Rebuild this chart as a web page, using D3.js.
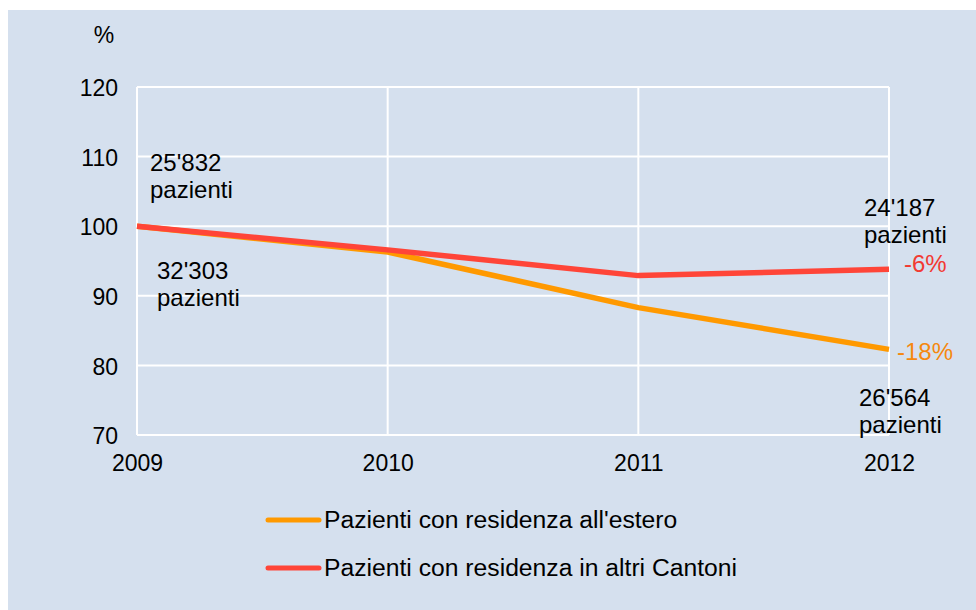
<!DOCTYPE html>
<html><head><meta charset="utf-8">
<script src="https://cdn.jsdelivr.net/npm/d3@7"></script>
<style>html,body{margin:0;padding:0;background:#fff;}svg{display:block;}</style>
</head><body>
<script>
const years = [2009, 2010, 2011, 2012];
const estero = [100, 96.3, 88.3, 82.3];
const cantoni = [100, 96.6, 92.9, 93.8];
const yTicks = [70, 80, 90, 100, 110, 120];
const seriesNames = ["Pazienti con residenza all'estero", "Pazienti con residenza in altri Cantoni"];
const seriesColors = ["#ff9900", "#ff4538"];

const W = 976, H = 610;
const FONT = "'Liberation Sans', Arial, Helvetica, sans-serif";
const svg = d3.select("body").append("svg").attr("width", W).attr("height", H)
  .style("font-family", FONT);

svg.append("rect").attr("x", 8).attr("y", 10).attr("width", W - 8).attr("height", H - 10).attr("fill", "#d5e0ee");

const x = d3.scalePoint().domain(years).range([137, 889]);
const y = d3.scaleLinear().domain([70, 120]).range([435, 87]);

// gridlines
const g = svg.append("g");
g.selectAll(".hg").data(yTicks).join("line")
  .attr("x1", 137).attr("x2", 889).attr("y1", d => y(d)).attr("y2", d => y(d))
  .attr("stroke", "#fff").attr("stroke-width", 2);
g.selectAll(".vg").data(years).join("line")
  .attr("x1", d => x(d)).attr("x2", d => x(d)).attr("y1", y(120)).attr("y2", y(70))
  .attr("stroke", "#fff").attr("stroke-width", 2);

// y axis
const yAxis = svg.append("g").attr("transform", "translate(118,0)")
  .call(d3.axisLeft(y).tickValues(yTicks).tickSize(0).tickPadding(0));
yAxis.select(".domain").remove();
yAxis.selectAll("text").attr("font-size", 23).attr("fill", "#000")
  .attr("font-family", FONT).attr("dy", "0.38em");

// x axis
const xAxis = svg.append("g").attr("transform", "translate(0,471)")
  .call(d3.axisBottom(x).tickFormat(d3.format("d")).tickSize(0).tickPadding(0));
xAxis.select(".domain").remove();
xAxis.selectAll("text").attr("font-size", 23).attr("fill", "#000")
  .attr("font-family", FONT).attr("y", 0).attr("dy", 0);

svg.append("text").attr("x", 104).attr("y", 43).attr("text-anchor", "middle")
  .attr("font-size", 23).text("%");

// lines
const line = d3.line().x((d, i) => x(years[i])).y(d => y(d));
[estero, cantoni].forEach((s, i) => {
  svg.append("path").datum(s).attr("d", line).attr("fill", "none")
    .attr("stroke", seriesColors[i]).attr("stroke-width", 5.5).attr("stroke-linejoin", "round");
});

// annotations
const ann = [
  {x: 150, y: 171, lines: ["25'832", "pazienti"], c: "#000"},
  {x: 157, y: 279, lines: ["32'303", "pazienti"], c: "#000"},
  {x: 864, y: 216, lines: ["24'187", "pazienti"], c: "#000"},
  {x: 859, y: 406, lines: ["26'564", "pazienti"], c: "#000"},
  {x: 904, y: 272, lines: ["-6%"], c: "#f23a32"},
  {x: 897, y: 360, lines: ["-18%"], c: "#f5880f"}
];
ann.forEach(a => {
  const t = svg.append("text").attr("x", a.x).attr("y", a.y).attr("font-size", 24).attr("fill", a.c);
  a.lines.forEach((l, i) => t.append("tspan").attr("x", a.x).attr("dy", i === 0 ? 0 : 26.5).text(l));
});

// legend
seriesNames.forEach((n, i) => {
  const ly = 520 + i * 48;
  svg.append("line").attr("x1", 268).attr("x2", 319).attr("y1", ly).attr("y2", ly)
    .attr("stroke", seriesColors[i]).attr("stroke-width", 5).attr("stroke-linecap", "round");
  svg.append("text").attr("x", 324).attr("y", ly + 8).attr("font-size", 24.7).attr("fill", "#000").text(n);
});
</script>
</body></html>
